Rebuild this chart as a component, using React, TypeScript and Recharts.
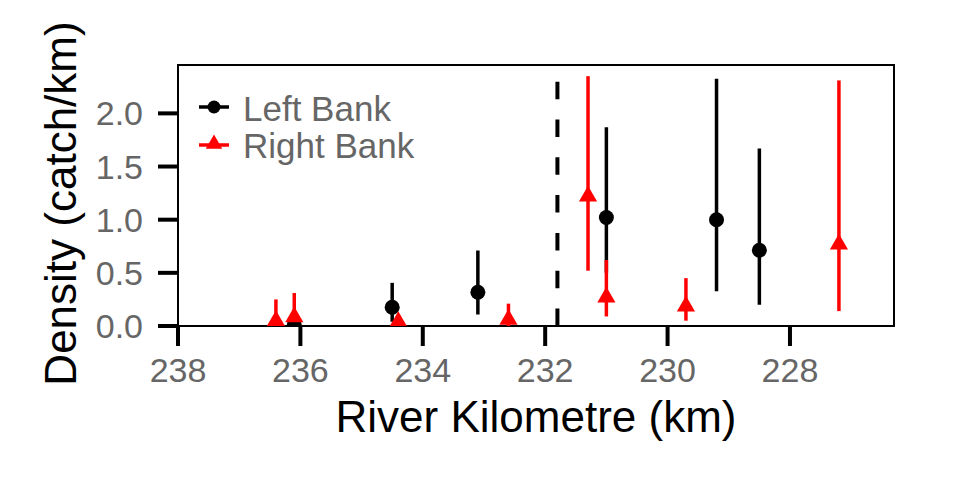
import React from "react";
import {
  ScatterChart,
  Scatter,
  XAxis,
  YAxis,
  ErrorBar,
  ReferenceLine,
  ReferenceArea,
  Legend,
} from "recharts";

// river km (x) and density with lower / upper interval bounds
const leftKm = [236.1, 234.5, 233.1, 231.0, 229.2, 228.5];
const leftDensity = [0.01, 0.177, 0.318, 1.02, 1.0, 0.713];
const leftLower = [0, 0.04, 0.108, 0.5, 0.327, 0.2];
const leftUpper = [0.02, 0.406, 0.71, 1.87, 2.325, 1.67];

const rightKm = [236.4, 236.1, 234.4, 232.6, 231.3, 231.0, 229.7, 227.2];
const rightDensity = [0.05, 0.085, 0.04, 0.06, 1.22, 0.27, 0.186, 0.77];
const rightLower = [0, 0, 0, 0, 0.52, 0.09, 0.05, 0.14];
const rightUpper = [0.25, 0.31, 0.09, 0.21, 2.35, 0.62, 0.45, 2.31];

const xTicks = [238, 236, 234, 232, 230, 228];
const yTicks = [0, 0.5, 1, 1.5, 2];
const breakKm = 231.8;

const xDomain = [226.3, 238];
const yDomain = [0, 2.455];

const toRows = (km: number[], d: number[], lo: number[], hi: number[]) =>
  km.map((k, i) => ({ km: k, density: d[i], err: [d[i] - lo[i], hi[i] - d[i]] }));

const leftRows = toRows(leftKm, leftDensity, leftLower, leftUpper);
const rightRows = toRows(rightKm, rightDensity, rightLower, rightUpper);

const FONT = "'Liberation Sans', Arial, Helvetica, sans-serif";
const GREY = "#666666";
const RED = "#FF0000";

const triPath = (cx: number, cy: number, r: number) => {
  const hw = r * 0.866;
  return `M${cx},${cy - r}L${cx + hw},${cy + r / 2}L${cx - hw},${cy + r / 2}Z`;
};

const Dot = (p: any) => <circle cx={p.cx} cy={p.cy} r={7.5} fill="#000" />;
const Tri = (p: any) => <path d={triPath(p.cx, p.cy, 10.5)} fill={RED} />;

const XTick = ({ x, y, payload }: any) => (
  <text x={x} y={y + 36} textAnchor="middle" fontSize={34} fill={GREY} fontFamily={FONT}>
    {payload.value}
  </text>
);

const YTick = ({ x, y, payload }: any) => (
  <text x={x - 15} y={y + 12} textAnchor="end" fontSize={34} fill={GREY} fontFamily={FONT}>
    {Number(payload.value).toFixed(1)}
  </text>
);

const XTitle = ({ viewBox }: any) => (
  <text
    x={viewBox.x + viewBox.width / 2}
    y={viewBox.y + 105.5}
    textAnchor="middle"
    fontSize={44}
    fill="#000"
    fontFamily={FONT}
  >
    River Kilometre (km)
  </text>
);

const YTitle = ({ viewBox }: any) => {
  const cx = 76;
  const cy = viewBox.y + viewBox.height / 2 + 8;
  return (
    <text
      x={cx}
      y={cy}
      transform={`rotate(-90 ${cx} ${cy})`}
      textAnchor="middle"
      fontSize={44}
      fill="#000"
      fontFamily={FONT}
    >
      Density (catch/km)
    </text>
  );
};

const LegendBox = () => (
  <svg width={240} height={80} style={{ display: "block" }}>
    <line x1={3} y1={19} x2={33} y2={19} stroke="#000" strokeWidth={3.5} />
    <circle cx={18} cy={19} r={6.5} fill="#000" />
    <text x={47} y={33} fontSize={35} fill={GREY} fontFamily={FONT}>
      Left Bank
    </text>
    <line x1={3} y1={57} x2={33} y2={57} stroke={RED} strokeWidth={3.5} />
    <path d={triPath(18, 56, 9.5)} fill={RED} />
    <text x={47} y={70} fontSize={35} fill={GREY} fontFamily={FONT}>
      Right Bank
    </text>
  </svg>
);

export default function App() {
  return (
    <div style={{ position: "absolute", left: 0, top: 0, width: 960, height: 480, background: "#fff" }}>
      <ScatterChart
        width={960}
        height={480}
        margin={{ top: 65, right: 66, bottom: 0, left: 0 }}
        style={{ fontFamily: FONT }}
      >
        <XAxis
          type="number"
          dataKey="km"
          domain={xDomain}
          reversed
          allowDataOverflow
          ticks={xTicks}
          height={154}
          tickSize={20}
          tickMargin={0}
          axisLine={false}
          stroke="#000"
          tickLine={{ stroke: "#000", strokeWidth: 4 }}
          tick={<XTick />}
          label={{ content: <XTitle /> }}
        />
        <YAxis
          type="number"
          dataKey="density"
          domain={yDomain}
          allowDataOverflow
          ticks={yTicks}
          width={178}
          tickSize={20}
          tickMargin={0}
          axisLine={false}
          stroke="#000"
          tickLine={{ stroke: "#000", strokeWidth: 4 }}
          tick={<YTick />}
          label={{ content: <YTitle /> }}
        />
        <ReferenceLine
          x={breakKm}
          stroke="#000"
          strokeWidth={4}
          strokeDasharray="17.5 20.3"
        />
        <Scatter name="Left Bank" data={leftRows} shape={<Dot />} isAnimationActive={false}>
          <ErrorBar dataKey="err" direction="y" width={0} stroke="#000" strokeWidth={3.5} />
        </Scatter>
        <Scatter name="Right Bank" data={rightRows} shape={<Tri />} isAnimationActive={false}>
          <ErrorBar dataKey="err" direction="y" width={0} stroke={RED} strokeWidth={3.5} />
        </Scatter>
        <ReferenceArea
          x1={xDomain[0]}
          x2={xDomain[1]}
          y1={yDomain[0]}
          y2={yDomain[1]}
          fill="none"
          stroke="#000"
          strokeWidth={2}
        />
        <Legend
          layout="vertical"
          align="center"
          verticalAlign="middle"
          content={<LegendBox />}
          wrapperStyle={{ left: 196, top: 88, width: 240, height: 80 }}
        />
      </ScatterChart>
    </div>
  );
}
